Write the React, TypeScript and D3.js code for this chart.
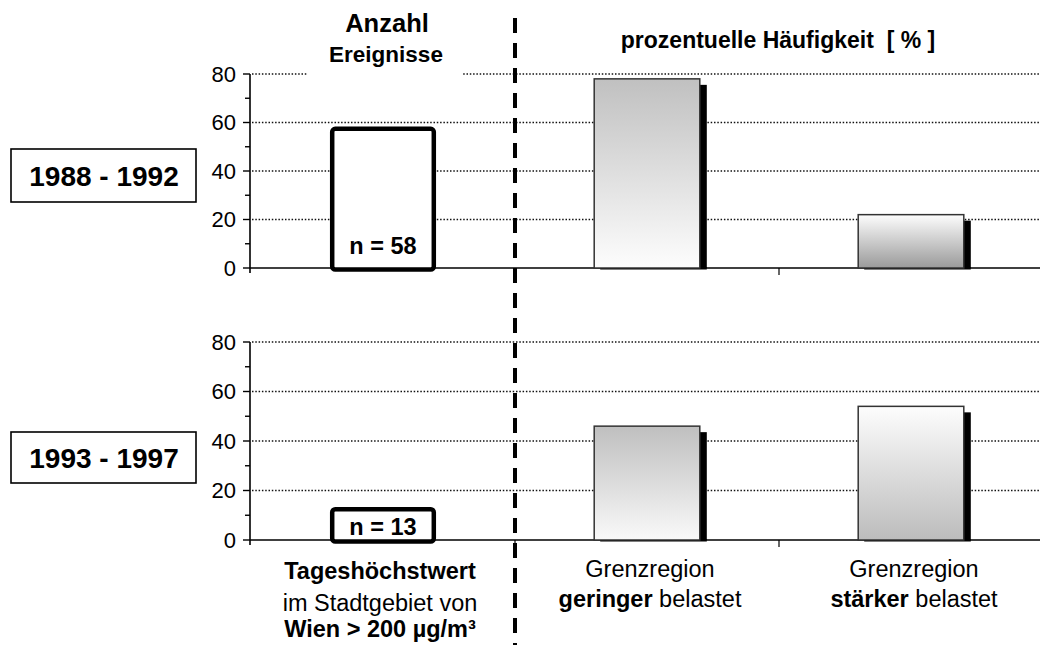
import React from "react";
import * as d3 from "d3";

const categories = ["wien", "geringer", "staerker"];
const periods = ["1988 - 1992", "1993 - 1997"];
const eventCounts = [58, 13];
const geringerPct = [78, 46];
const staerkerPct = [22, 54];
const yTicks = [0, 20, 40, 60, 80];
const yMinorTicks = [10, 30, 50, 70];

const FONT = "'Liberation Sans', Arial, Helvetica, sans-serif";

const W = 1040;
const H = 645;

const panels = [
  { yRange: [268, 74] as [number, number], box: [149, 202] },
  { yRange: [540, 342] as [number, number], box: [432, 483] },
];

const gradStyles = [
  { geringer: ["#c0c0c0", "#fdfdfd"], staerker: ["#fdfdfd", "#9a9a9a"] },
  { geringer: ["#bfbfbf", "#f9f9f9"], staerker: ["#fdfdfd", "#bcbcbc"] },
];

export default function App() {
  const x = d3.scaleBand<string>().domain(categories).range([251, 1043]).padding(0);
  const bw = x.bandwidth() * 0.4;
  const axisX = 250;

  return (
    <svg
      width={W}
      height={H}
      style={{ position: "absolute", left: 0, top: 0, background: "#fff" }}
      fontFamily={FONT}
    >
      <defs>
        {gradStyles.map((g, i) => (
          <React.Fragment key={i}>
            <linearGradient id={`gg${i}`} x1="0" y1="0" x2="0" y2="1">
              <stop offset="0" stopColor={g.geringer[0]} />
              <stop offset="1" stopColor={g.geringer[1]} />
            </linearGradient>
            <linearGradient id={`gs${i}`} x1="0" y1="0" x2="0" y2="1">
              <stop offset="0" stopColor={g.staerker[0]} />
              <stop offset="1" stopColor={g.staerker[1]} />
            </linearGradient>
          </React.Fragment>
        ))}
      </defs>
      <rect width={W} height={H} fill="#fff" />

      {panels.map((p, pi) => {
        const y = d3.scaleLinear().domain([0, 80]).range(p.yRange);
        const base = y(0);
        const pctBars = [
          { cat: "geringer", v: geringerPct[pi], fill: `url(#gg${pi})` },
          { cat: "staerker", v: staerkerPct[pi], fill: `url(#gs${pi})` },
        ];
        const nCat = "wien";
        const nv = eventCounts[pi];
        const nx = (x(nCat) as number) + (x.bandwidth() - bw) / 2;
        const nTop = y(nv);
        return (
          <g key={pi}>
            {yTicks
              .filter((t) => t > 0)
              .map((t) => (
                <line
                  key={t}
                  x1={axisX + 2}
                  x2={W}
                  y1={y(t)}
                  y2={y(t)}
                  stroke="#111"
                  strokeWidth={1.3}
                  strokeDasharray="1.5,1.8"
                />
              ))}
            {pi === 0 && <rect x={308} y={0} width={155} height={y(80) + 3} fill="#fff" />}

            <line x1={axisX} x2={W} y1={base} y2={base} stroke="#000" strokeWidth={1.6} />
            {categories.slice(1).map((c) => (
              <line
                key={c}
                x1={x(c) as number}
                x2={x(c) as number}
                y1={base}
                y2={base + 7}
                stroke="#000"
                strokeWidth={1.2}
              />
            ))}

            <line x1={axisX} x2={axisX} y1={y(80)} y2={base + 5} stroke="#000" strokeWidth={1.6} />
            {yTicks.map((t) => (
              <g key={t}>
                <line x1={axisX - 7} x2={axisX} y1={y(t)} y2={y(t)} stroke="#000" strokeWidth={1.4} />
                <text
                  x={axisX - 14}
                  y={y(t)}
                  dy="0.36em"
                  textAnchor="end"
                  fontSize={22}
                  fill="#000"
                >
                  {t}
                </text>
              </g>
            ))}
            {yMinorTicks.map((t) => (
              <line key={t} x1={axisX - 5} x2={axisX} y1={y(t)} y2={y(t)} stroke="#000" strokeWidth={1.4} />
            ))}

            {pctBars.map((b) => {
              const bx = (x(b.cat) as number) + (x.bandwidth() - bw) / 2;
              const top = y(b.v);
              return (
                <g key={b.cat}>
                  <rect x={bx + bw} y={top + 6} width={7} height={base - top - 6} fill="#000" />
                  <rect x={bx + 6} y={base - 1} width={bw + 1} height={2.5} fill="#000" />
                  <rect
                    x={bx}
                    y={top}
                    width={bw}
                    height={base - top}
                    fill={b.fill}
                    stroke="#333"
                    strokeWidth={1.5}
                  />
                </g>
              );
            })}

            <rect
              x={nx + 2}
              y={nTop + 1.5}
              width={bw - 4}
              height={base - nTop}
              rx={3}
              fill="#fff"
              stroke="#000"
              strokeWidth={4.5}
            />
            <text
              x={nx + bw / 2}
              y={base - nTop > 40 ? base - 14 : base - 5}
              textAnchor="middle"
              fontSize={23.5}
              fontWeight="bold"
              fill="#000"
            >
              {`n = ${nv}`}
            </text>

            <rect
              x={11}
              y={p.box[0]}
              width={185}
              height={p.box[1] - p.box[0]}
              fill="#fff"
              stroke="#000"
              strokeWidth={1.6}
            />
            <text
              x={104}
              y={(p.box[0] + p.box[1]) / 2}
              dy="0.36em"
              textAnchor="middle"
              fontSize={28}
              fontWeight="bold"
              fill="#000"
            >
              {periods[pi]}
            </text>
          </g>
        );
      })}

      <text x={387} y={32} textAnchor="middle" fontSize={25.5} fontWeight="bold">
        Anzahl
      </text>
      <text x={386} y={62} textAnchor="middle" fontSize={22.5} fontWeight="bold">
        Ereignisse
      </text>
      <text x={(x("staerker") as number) - 1} y={48} textAnchor="middle" fontSize={23} fontWeight="bold" xmlSpace="preserve">
        prozentuelle Häufigkeit  [ % ]
      </text>

      <g fontSize={23.5} textAnchor="middle" fill="#000">
        <text x={(x("wien") as number) + x.bandwidth() / 2 - 3} y={579} fontWeight="bold">
          Tageshöchstwert
        </text>
        <text x={(x("wien") as number) + x.bandwidth() / 2 - 3} y={611}>
          im Stadtgebiet von
        </text>
        <text x={(x("wien") as number) + x.bandwidth() / 2 - 3} y={637} fontWeight="bold">
          Wien &gt; 200 µg/m³
        </text>
        <text x={(x("geringer") as number) + x.bandwidth() / 2 + 3} y={577}>
          Grenzregion
        </text>
        <text x={(x("geringer") as number) + x.bandwidth() / 2 + 3} y={607} xmlSpace="preserve">
          <tspan fontWeight="bold">geringer</tspan> belastet
        </text>
        <text x={(x("staerker") as number) + x.bandwidth() / 2 + 3} y={577}>
          Grenzregion
        </text>
        <text x={(x("staerker") as number) + x.bandwidth() / 2 + 3} y={607} xmlSpace="preserve">
          <tspan fontWeight="bold">stärker</tspan> belastet
        </text>
      </g>

      <line
        x1={x("geringer") as number}
        x2={x("geringer") as number}
        y1={18}
        y2={H}
        stroke="#000"
        strokeWidth={4}
        strokeDasharray="15,10"
      />
    </svg>
  );
}
